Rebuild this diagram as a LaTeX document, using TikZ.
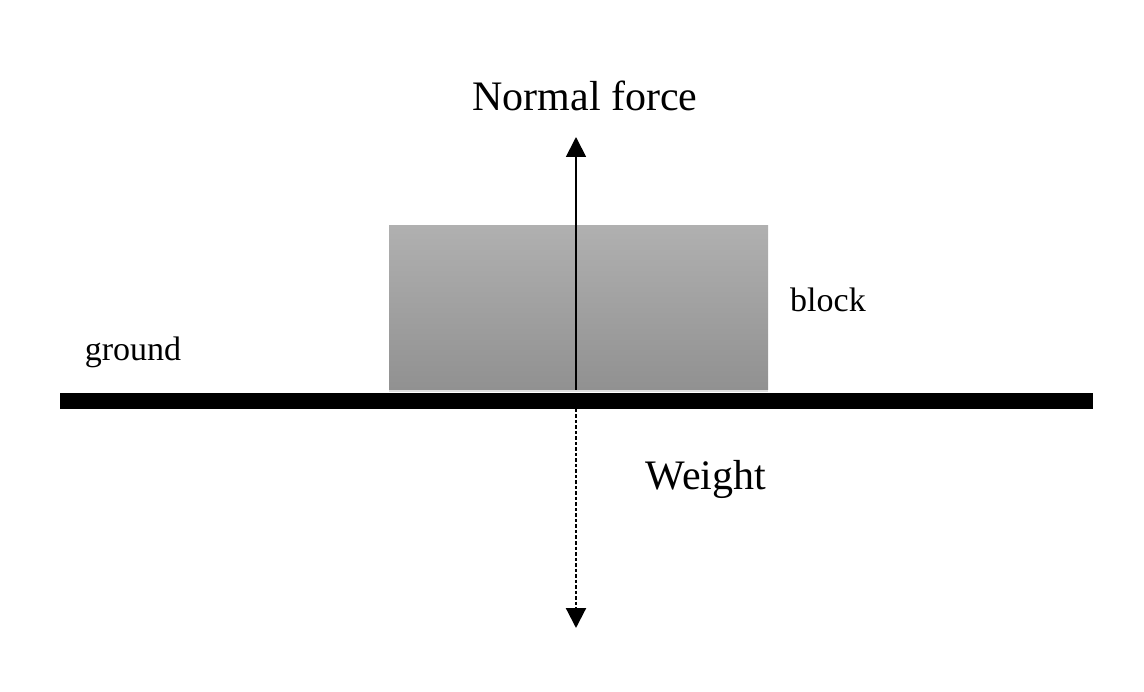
\documentclass[tikz,border=0pt]{standalone}
\usepackage{fontspec}
\setmainfont{Liberation Serif}
\usetikzlibrary{shadows,arrows.meta}

\tikzset{
  bigtext/.style={font=\fontsize{42}{50}\selectfont, inner sep=0pt, anchor=base},
  smalltext/.style={font=\fontsize{34}{40}\selectfont, inner sep=0pt, anchor=base},
  force/.style={line width=1.8pt, -{Triangle[length=20pt,width=20pt]}}
}

\begin{document}
\begin{tikzpicture}[x=1pt,y=-1pt]
    \useasboundingbox (0,0) rectangle (1144,692);
    % block and ground
    \node[minimum width=379pt, minimum height=164pt, inner sep=0pt,
          top color=gray!62, bottom color=gray!80!black!72,
          drop shadow={opacity=0.25, shadow xshift=0pt, shadow yshift=-2pt}]
          (block) at (578.5,308) {};
    \node[fill=black, minimum width=1033pt, minimum height=16pt, inner sep=0pt]
          (ground) at (576.5,401) {};
    % forces
    \coordinate (nbase) at (576,390);
    \coordinate (ntip) at (576,137);
    \coordinate (wbase) at (576,409);
    \coordinate (wtip) at (576,628);
    \draw[force] (nbase) -- (ntip);
    \draw[force, line width=2.2pt, dash pattern=on 3.5pt off 2pt] (wbase) -- (wtip);
    % labels
    \node[bigtext] (nlabel) at (585,111) {Normal force};
    \node[bigtext] (wlabel) at (706,490) {Weight};
    \node[smalltext] (blabel) at (828,312) {block};
    \node[smalltext] (glabel) at (133,361) {ground};
\end{tikzpicture}
\end{document}
